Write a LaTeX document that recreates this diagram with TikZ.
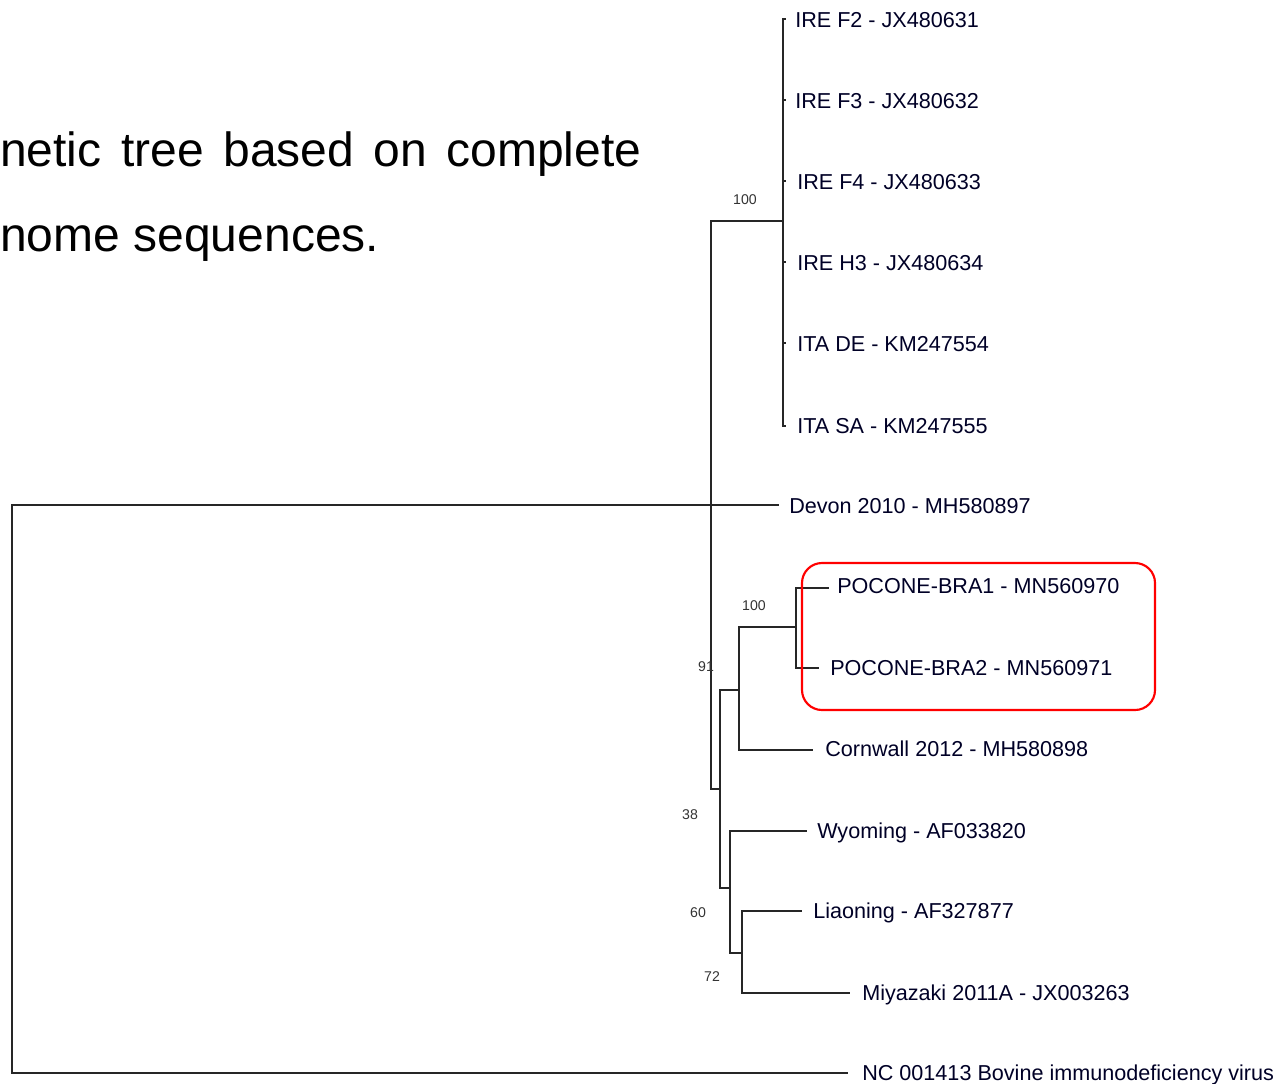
\documentclass[tikz,border=0pt]{standalone}
\usepackage{fontspec}
\setmainfont{Liberation Sans}
\begin{document}
\begin{tikzpicture}[x=0.75pt,y=-0.75pt,
  branch/.style={line width=2pt,draw=black!85},
  leaf/.style={anchor=base west,inner sep=0pt,text=black!85!blue,font=\fontsize{16.2pt}{18pt}\selectfont},
  boot/.style={inner sep=0pt,text=black!80,font=\fontsize{10.6pt}{12pt}\selectfont},
  heading/.style={anchor=base west,inner sep=0pt,text=black,font=\fontsize{36pt}{40pt}\selectfont}]
\useasboundingbox (0,0) rectangle (1276,1083);
% heading
\node[heading] (h1) at (0,166) {\makebox[480.75pt][s]{netic tree based on complete}};
\node[heading] (h2) at (0,251) {nome sequences.};
% internal nodes
\coordinate (root) at (12,789);
\coordinate (nA) at (711,505);
\coordinate (nIRE) at (783,221);
\coordinate (nB) at (720,789);
\coordinate (nC) at (739,690);
\coordinate (nD) at (796,627);
\coordinate (nE) at (730,888);
\coordinate (nF) at (742,953);
% leaf tips
\coordinate (tF2) at (786,19);
\coordinate (tF3) at (786,100);
\coordinate (tF4) at (786,181);
\coordinate (tH3) at (786,262);
\coordinate (tDE) at (786,343);
\coordinate (tSA) at (786,426);
\coordinate (tDev) at (779,505);
\coordinate (tP1) at (829,588);
\coordinate (tP2) at (819,668);
\coordinate (tCor) at (813,750);
\coordinate (tWy) at (807,831);
\coordinate (tLi) at (802,911);
\coordinate (tMi) at (850,993);
\coordinate (tBIV) at (848,1073);
% branches
\draw[branch] (root) |- (nA);
\draw[branch] (root) |- (tBIV);
\draw[branch] (nA) |- (nIRE);
\draw[branch] (nA) |- (tDev);
\draw[branch] (nA) |- (nB);
\foreach \t in {tF2,tF3,tF4,tH3,tDE,tSA} \draw[branch] (nIRE) |- (\t);
\draw[branch] (nB) |- (nC);
\draw[branch] (nB) |- (nE);
\draw[branch] (nC) |- (nD);
\draw[branch] (nC) |- (tCor);
\draw[branch] (nD) |- (tP1);
\draw[branch] (nD) |- (tP2);
\draw[branch] (nE) |- (tWy);
\draw[branch] (nE) |- (nF);
\draw[branch] (nF) |- (tLi);
\draw[branch] (nF) |- (tMi);
% leaf labels
\node[leaf] (lF2) at (795,27) {IRE F2 - JX480631};
\node[leaf] (lF3) at (795,108) {IRE F3 - JX480632};
\node[leaf] (lF4) at (797,189) {IRE F4 - JX480633};
\node[leaf] (lH3) at (797,270) {IRE H3 - JX480634};
\node[leaf] (lDE) at (797,351) {ITA DE - KM247554};
\node[leaf] (lSA) at (797,433) {ITA SA - KM247555};
\node[leaf] (lDev) at (789,513) {Devon 2010 - MH580897};
\node[leaf] (lP1) at (837,593) {POCONE-BRA1 - MN560970};
\node[leaf] (lP2) at (830,675) {POCONE-BRA2 - MN560971};
\node[leaf] (lCor) at (825,756) {Cornwall 2012 - MH580898};
\node[leaf] (lWy) at (817,838) {Wyoming - AF033820};
\node[leaf] (lLi) at (813,918) {Liaoning - AF327877};
\node[leaf] (lMi) at (862,1000) {Miyazaki 2011A - JX003263};
\node[leaf] (lBIV) at (862,1080) {NC 001413 Bovine immunodeficiency virus};
% bootstrap values
\node[boot] (b1) at (745,200) {100};
\node[boot] (b2) at (754,606) {100};
\node[boot] (b3) at (706,667) {91};
\node[boot] (b4) at (690,815) {38};
\node[boot] (b5) at (698,913) {60};
\node[boot] (b6) at (712,977) {72};
% highlight box
\draw[red,line width=1.6pt,rounded corners=15pt] (802,563) rectangle (1155,710);
\end{tikzpicture}
\end{document}
